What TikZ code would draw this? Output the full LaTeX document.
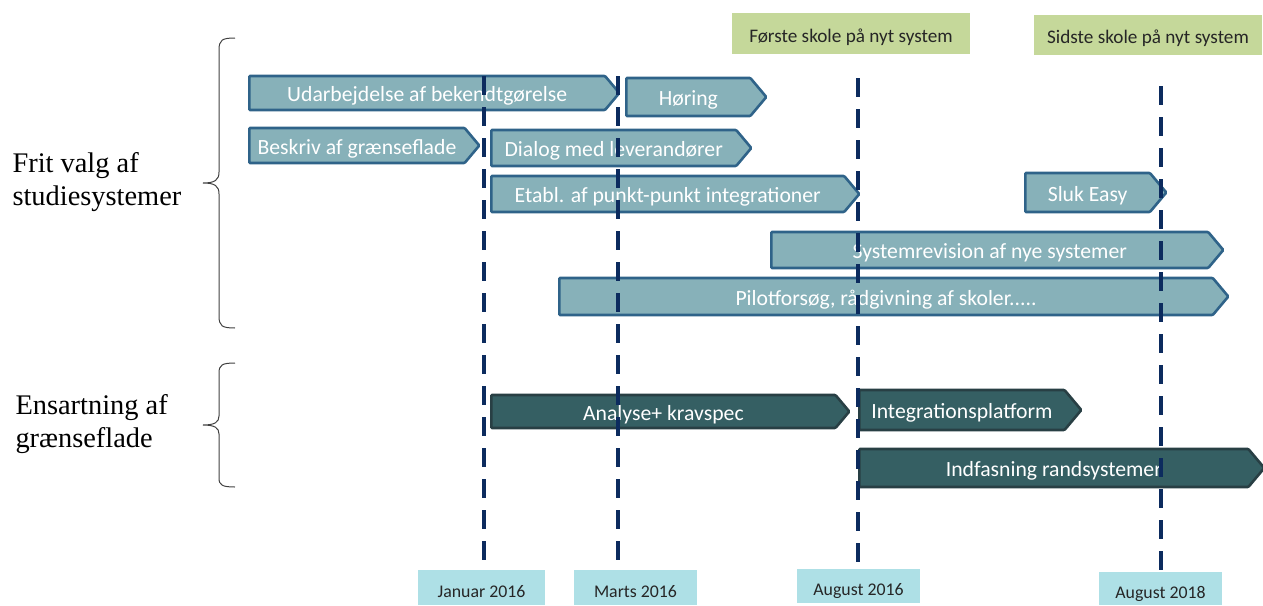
\documentclass[tikz,border=0pt]{standalone}
\usepackage{fontspec}
\setmainfont{Liberation Serif}
\newfontfamily\boxfont{Carlito}
\usetikzlibrary{shapes.symbols}
\definecolor{lightfill}{HTML}{87B1B9}
\definecolor{lightedge}{HTML}{2F6389}
\definecolor{darkfill}{HTML}{355F63}
\definecolor{darkedge}{HTML}{283F44}
\definecolor{dashcol}{HTML}{0C2B5E}
\definecolor{datefill}{HTML}{AEE0E6}
\definecolor{notefill}{HTML}{C5D89A}
\tikzset{
  x=1pt, y=-1pt,
  chev/.style={signal, signal to=east, signal from=nowhere, signal pointer angle=100,
    anchor=west, inner sep=0pt, line width=2.6pt, text=white,
    text height=17.5pt, text depth=0pt,
    font=\boxfont\fontsize{21.7}{24}\selectfont, rounded corners=1pt},
  lightchev/.style={chev, fill=lightfill, draw=lightedge},
  darkchev/.style={chev, fill=darkfill, draw=darkedge},
  datebox/.style={fill=datefill, inner sep=0pt, text height=19pt, text depth=0pt,
    font=\boxfont\fontsize{17.8}{20}\selectfont, text=black!85},
  notebox/.style={fill=notefill, inner sep=0pt, text height=17pt, text depth=0pt,
    font=\boxfont\fontsize{19.2}{22}\selectfont, text=black!85},
  dashline/.style={draw=dashcol, line width=4.2pt, dash pattern=on 19pt off 12pt},
  grouptext/.style={align=left, anchor=west, font=\fontsize{28.4}{33}\selectfont, text=black},
  bracestyle/.style={draw=black!75, line width=1pt}
}
\begin{document}
\begin{tikzpicture}
\useasboundingbox (0,0) rectangle (1263,605);
% top notes
\node[notebox, minimum width=238pt, minimum height=41pt] (n1) at (851,33.5) {Første skole på nyt system};
\node[notebox, minimum width=228pt, minimum height=40pt] (n2) at (1148,35) {Sidste skole på nyt system};
% light chevrons (west edge, mid height)
\node[lightchev, minimum width=370pt, minimum height=34pt] (c1) at (248,93) {Udarbejdelse af bekendtgørelse};
\node[lightchev, minimum width=140pt, minimum height=38pt] (c2) at (625,97) {Høring};
\node[lightchev, minimum width=230pt, minimum height=35pt] (c3) at (248,145.5) {Beskriv af grænseflade};
\node[lightchev, minimum width=260pt, minimum height=36pt] (c4) at (490,148) {Dialog med leverandører};
\node[lightchev, minimum width=368pt, minimum height=36pt] (c5) at (490,194) {Etabl. af punkt-punkt integrationer};
\node[lightchev, minimum width=141pt, minimum height=39pt] (c6) at (1024,192.5) {Sluk Easy};
\node[lightchev, minimum width=452pt, minimum height=36pt] (c7) at (770,250) {Systemrevision af nye systemer};
\node[lightchev, minimum width=669pt, minimum height=37pt] (c8) at (558,296.5) {Pilotforsøg, rådgivning af skoler.....};
% dark chevrons
\node[darkchev, minimum width=358pt, minimum height=33pt] (d1) at (490,411.5) {Analyse+ kravspec};
\node[darkchev, minimum width=222pt, minimum height=40pt] (d2) at (858,410) {Integrationsplatform};
\node[darkchev, minimum width=405pt, minimum height=38pt] (d3) at (858,468) {Indfasning randsystemer};
% date boxes
\node[datebox, minimum width=127pt, minimum height=35pt] (t1) at (481.5,587.5) {Januar 2016};
\node[datebox, minimum width=123pt, minimum height=35pt] (t2) at (635.5,587.5) {Marts 2016};
\node[datebox, minimum width=123pt, minimum height=34pt] (t3) at (858.5,586) {August 2016};
\node[datebox, minimum width=123pt, minimum height=33pt] (t4) at (1160.5,588.5) {August 2018};
% dashed milestone lines
\coordinate (l1) at (484,76);
\coordinate (l2) at (618,76);
\coordinate (l3) at (858,78);
\coordinate (l4) at (1161,86);
\draw[dashline] (l1) -- (l1 |- t1.north);
\draw[dashline] (l2) -- (l2 |- t2.north);
\draw[dashline] (l3) -- (l3 |- t3.north);
\draw[dashline] (l4) -- (l4 |- t4.north);
% group labels
\node[grouptext] (g1) at (9,182) {Frit valg af\\studiesystemer};
\node[grouptext] (g2) at (12,424) {Ensartning af\\grænseflade};
% braces
\draw[bracestyle] (235,38) .. controls (222,38) and (219,40) .. (219,50)
  -- (219,172) .. controls (219,180) and (215,183) .. (203,183)
  .. controls (215,183) and (219,186) .. (219,194)
  -- (219,316) .. controls (219,326) and (222,328) .. (235,328);
\draw[bracestyle] (235,363) .. controls (222,363) and (219,365) .. (219,373)
  -- (219,416) .. controls (219,422) and (215,425) .. (203,425)
  .. controls (215,425) and (219,428) .. (219,434)
  -- (219,478) .. controls (219,485) and (222,487) .. (235,487);
\end{tikzpicture}
\end{document}
